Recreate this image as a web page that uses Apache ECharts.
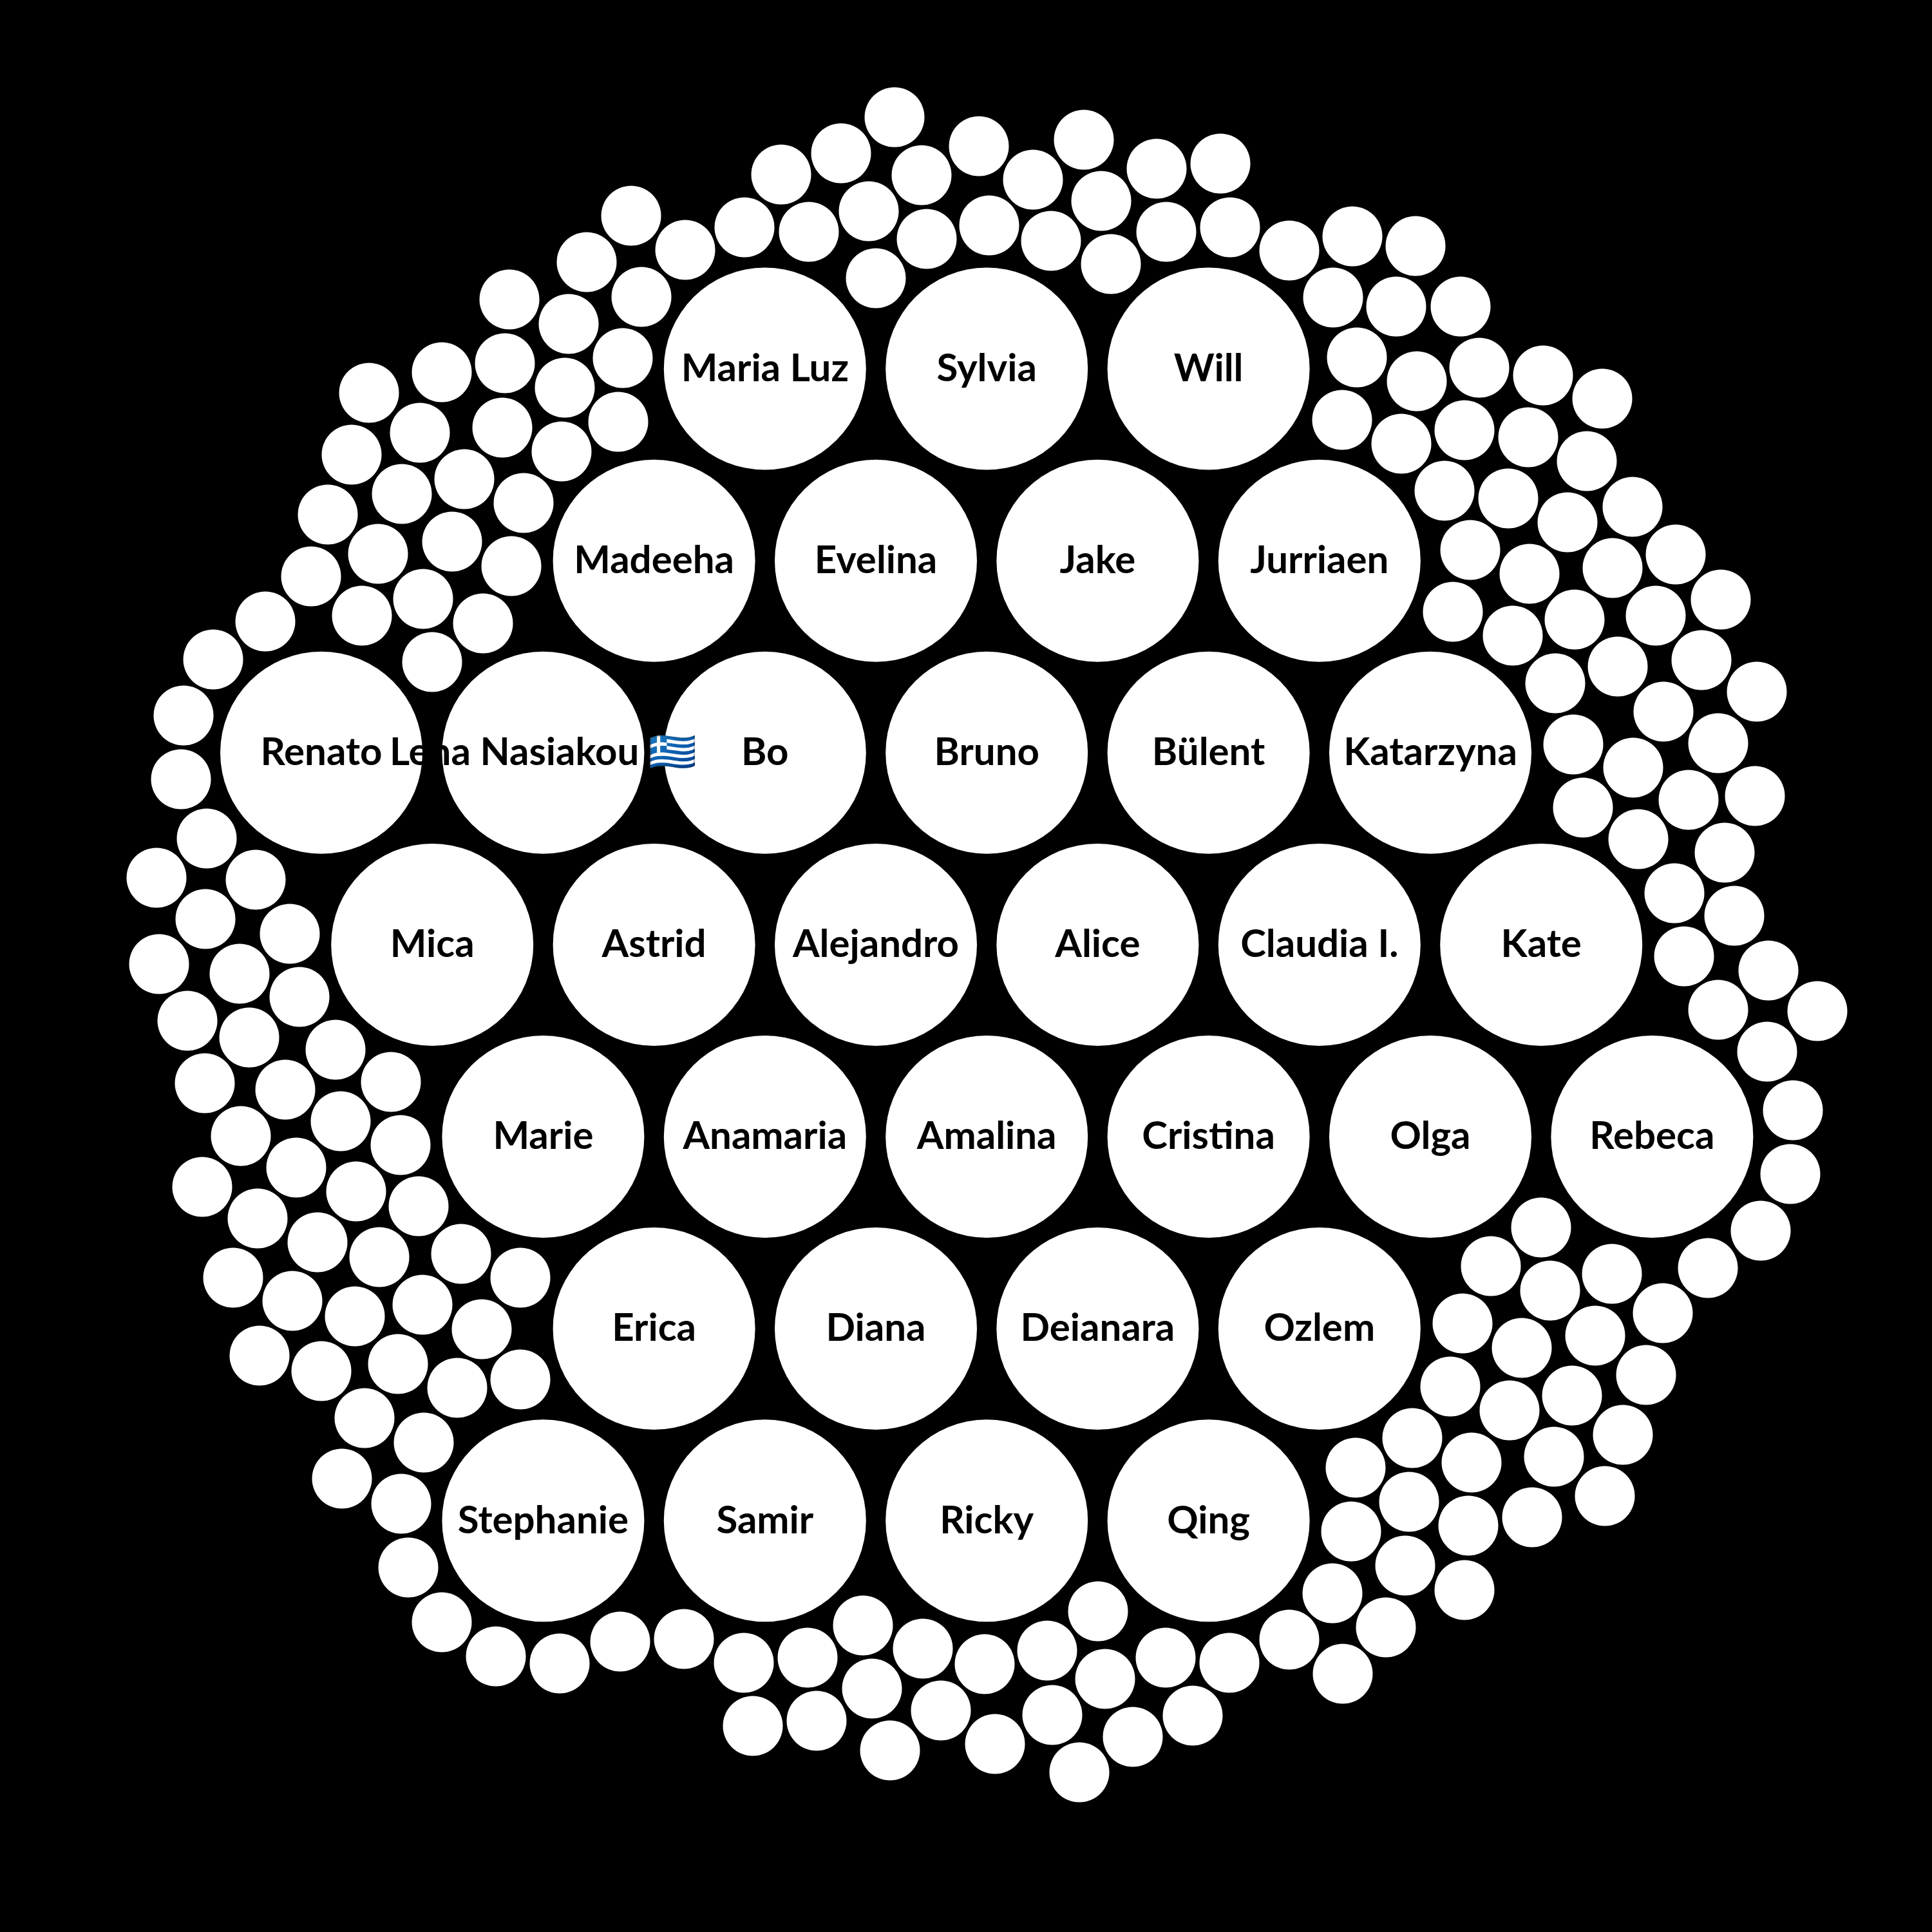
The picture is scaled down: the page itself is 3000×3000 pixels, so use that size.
<!DOCTYPE html>
<html>
<head>
<meta charset="utf-8">
<script src="https://cdn.jsdelivr.net/npm/echarts@6/dist/echarts.min.js"></script>
<style>
html,body{margin:0;padding:0;background:#000;}
#chart{width:3000px;height:3000px;}
</style>
</head>
<body>
<div id="chart"></div>
<script>
// Named people, arranged in hexagonal rows (row index, starting half-column)
const rowNames = [
  ["Maria Luz", "Sylvia", "Will"],
  ["Madeeha", "Evelina", "Jake", "Jurriaen"],
  ["Renato", "Lena Nasiakou 🇬🇷", "Bo", "Bruno", "Bülent", "Katarzyna"],
  ["Mica", "Astrid", "Alejandro", "Alice", "Claudia I.", "Kate"],
  ["Marie", "Anamaria", "Amalina", "Cristina", "Olga", "Rebeca"],
  ["Erica", "Diana", "Deianara", "Ozlem"],
  ["Stephanie", "Samir", "Ricky", "Qing"]
];
const rowStart = [4, 3, 0, 1, 2, 3, 2];

// Unnamed small bubbles (x, y in chart units)
const smallTop = [[1389,182],[1306,238],[1213,271],[1431,272],[1520,227],[1683,217],[1604,279],[1796,262],[1895,254],[980,335],[911,407],[1064,388],[1156,353],[1256,360],[1349,328],[1439,371],[1536,350],[1632,374],[1710,312],[1811,360],[1910,353],[1725,410],[1360,432],[996,461]];
const smallTopRight = [[2002,389],[2100,367],[2198,382],[2070,462],[2168,476],[2268,476],[2107,555],[2200,592],[2297,571],[2396,583],[2488,619],[2084,652],[2176,689],[2274,668],[2373,679],[2464,716],[2243,762],[2342,774],[2434,811],[2535,787],[2283,854],[2375,891],[2504,882],[2602,861],[2256,950],[2349,987],[2445,962],[2571,956],[2672,931]];
const smallRight = [[2415,1061],[2512,1035],[2642,1025],[2728,1074],[2583,1105],[2443,1156],[2668,1154],[2536,1192],[2458,1254],[2622,1242],[2725,1236],[2544,1303],[2678,1324],[2600,1387],[2693,1422],[2615,1485],[2746,1507],[2668,1568],[2822,1570],[2744,1633],[2784,1724],[2780,1823],[2734,1911]];
const smallBottomRight = [[2393,1906],[2315,1966],[2407,2004],[2503,1978],[2652,1969],[2271,2055],[2363,2093],[2477,2074],[2582,2039],[2252,2153],[2344,2190],[2441,2167],[2556,2135],[2193,2233],[2285,2271],[2413,2262],[2520,2228],[2105,2279],[2188,2332],[2280,2369],[2379,2356],[2492,2323],[2098,2378],[2182,2431],[2274,2469],[2069,2474],[2152,2527],[2002,2546],[2085,2599]];
const smallBottom = [[634,2434],[686,2519],[770,2572],[869,2583],[963,2549],[1062,2545],[1155,2582],[1254,2574],[1340,2524],[1169,2680],[1268,2672],[1354,2622],[1382,2718],[1433,2560],[1705,2502],[1810,2574],[1909,2582],[1852,2664],[1759,2697],[1716,2607],[1626,2563],[1529,2584],[1461,2656],[1634,2663],[1545,2708],[1676,2752]];
const smallBottomLeft = [[291,1585],[387,1611],[465,1548],[521,1630],[318,1682],[443,1692],[607,1680],[374,1764],[529,1741],[622,1778],[314,1843],[460,1813],[553,1850],[650,1873],[400,1892],[493,1929],[589,1952],[716,1947],[362,1984],[808,1984],[454,2020],[551,2044],[656,2026],[748,2064],[403,2105],[499,2129],[618,2118],[710,2155],[808,2142],[566,2202],[658,2240],[531,2296],[623,2335]];
const smallLeft = [[412,965],[562,956],[657,930],[671,1028],[331,1024],[285,1111],[281,1210],[321,1302],[243,1363],[397,1366],[319,1427],[450,1450],[247,1497],[372,1512]];
const smallTopLeft = [[791,465],[883,503],[967,556],[686,578],[784,564],[573,610],[877,602],[960,655],[652,672],[780,664],[546,706],[872,701],[721,744],[624,767],[813,781],[509,799],[702,841],[587,860],[794,879],[483,895],[750,968]];

// Layout constants (hex grid for the named bubbles)
const HEX = { x0: 499, dx: 172.2, y0: 572.6, dy: 298.1 };
const BIG_SIZE = 314;
const SMALL_SIZE = 93;

const bigData = [];
rowNames.forEach(function (names, r) {
  names.forEach(function (n, i) {
    bigData.push({ name: n, value: [HEX.x0 + (rowStart[r] + 2 * i) * HEX.dx, HEX.y0 + r * HEX.dy] });
  });
});
const smallData = [].concat(smallTop, smallTopRight, smallRight, smallBottomRight,
  smallBottom, smallBottomLeft, smallLeft, smallTopLeft);

const chart = echarts.init(document.getElementById('chart'), null, { renderer: 'canvas' });
chart.setOption({
  backgroundColor: '#000000',
  animation: false,
  grid: { left: 0, right: 0, top: 0, bottom: 0 },
  xAxis: { type: 'value', min: 0, max: 3000, show: false },
  yAxis: { type: 'value', min: 0, max: 3000, inverse: true, show: false },
  series: [
    {
      type: 'scatter',
      data: smallData,
      symbol: 'circle',
      symbolSize: SMALL_SIZE,
      itemStyle: { color: '#ffffff', opacity: 1 },
      silent: true,
      emphasis: { disabled: true }
    },
    {
      type: 'scatter',
      data: bigData,
      symbol: 'circle',
      symbolSize: BIG_SIZE,
      itemStyle: { color: '#ffffff', opacity: 1 },
      silent: true,
      emphasis: { disabled: true },
      label: {
        show: true,
        position: 'inside',
        formatter: '{b}',
        color: '#000000',
        fontFamily: 'Lato',
        fontWeight: 'bold',
        fontSize: 60
      }
    }
  ]
});
</script>
</body>
</html>
